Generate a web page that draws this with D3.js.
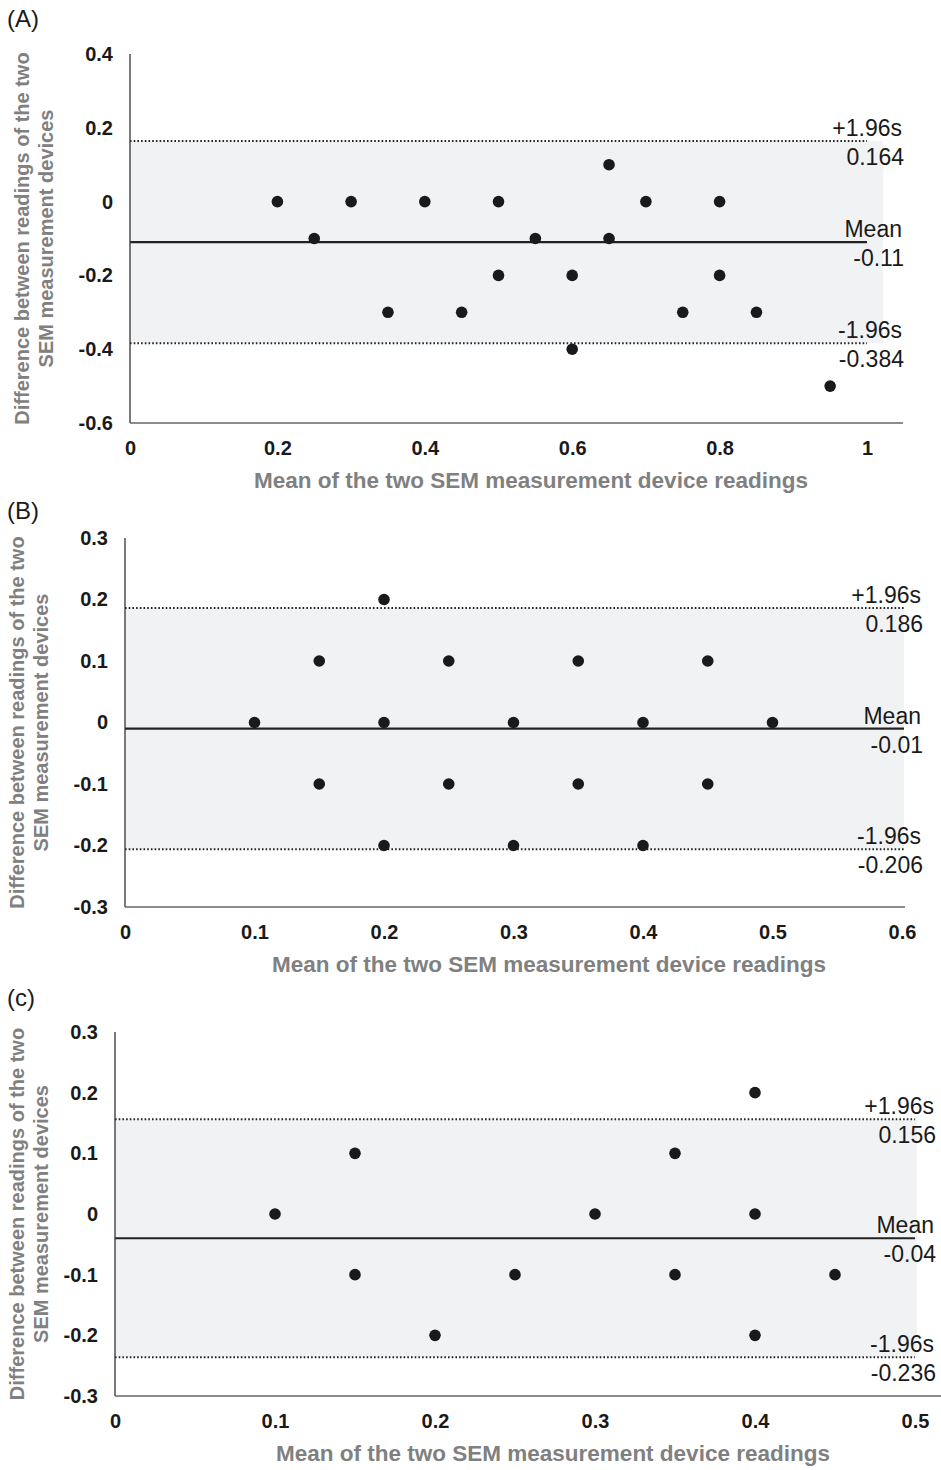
<!DOCTYPE html>
<html>
<head>
<meta charset="utf-8">
<script src="https://cdn.jsdelivr.net/npm/d3@7"></script>
<style>
  body { margin: 0; background: #fff; }
  text { font-family: "Liberation Sans", Arial, Helvetica, sans-serif; }
  .tick text { font-weight: bold; font-size: 20px; fill: #1a1a1a; }
</style>
</head>
<body>
<script>
var width = 941,
    height = 1470;

// panel A
var aX = [0.2, 0.25, 0.3, 0.35, 0.4, 0.45, 0.5, 0.5, 0.55, 0.6, 0.6, 0.65, 0.65, 0.7, 0.75, 0.8, 0.8, 0.85, 0.95];
var aY = [0, -0.1, 0, -0.3, 0, -0.3, 0, -0.2, -0.1, -0.2, -0.4, 0.1, -0.1, 0, -0.3, 0, -0.2, -0.3, -0.5];
var aStats = [0.164, -0.11, -0.384];
var aXTicks = [0, 0.2, 0.4, 0.6, 0.8, 1];
var aYTicks = [0.4, 0.2, 0, -0.2, -0.4, -0.6];

// panel B
var bX = [0.1, 0.15, 0.15, 0.2, 0.2, 0.2, 0.25, 0.25, 0.3, 0.3, 0.35, 0.35, 0.4, 0.4, 0.45, 0.45, 0.5];
var bY = [0, 0.1, -0.1, 0.2, 0, -0.2, 0.1, -0.1, 0, -0.2, 0.1, -0.1, 0, -0.2, 0.1, -0.1, 0];
var bStats = [0.186, -0.01, -0.206];
var bXTicks = [0, 0.1, 0.2, 0.3, 0.4, 0.5, 0.6];
var bYTicks = [0.3, 0.2, 0.1, 0, -0.1, -0.2, -0.3];

// panel C
var cX = [0.1, 0.15, 0.15, 0.2, 0.25, 0.3, 0.35, 0.35, 0.4, 0.4, 0.4, 0.45];
var cY = [0, 0.1, -0.1, -0.2, -0.1, 0, 0.1, -0.1, 0.2, 0, -0.2, -0.1];
var cStats = [0.156, -0.04, -0.236];
var cXTicks = [0, 0.1, 0.2, 0.3, 0.4, 0.5];
var cYTicks = [0.3, 0.2, 0.1, 0, -0.1, -0.2, -0.3];

var statNames = ["+1.96s", "Mean", "-1.96s"];
var xTitle = "Mean of the two SEM measurement device readings";
var yTitle = ["Difference between readings of the two", "SEM measurement devices"];

var svg = d3.select("body").append("svg")
    .attr("width", width)
    .attr("height", height);

function fmt(v) {
    return String(v);
}

function drawPanel(p) {
    var x = d3.scaleLinear().domain(p.xDomain).range([p.left, p.right]);
    var y = d3.scaleLinear().domain(p.yDomain).range([p.bottom, p.top]);
    var g = svg.append("g");

    // shaded band between the limits of agreement
    g.append("rect")
        .attr("x", x(0))
        .attr("y", y(p.stats[0]))
        .attr("width", p.bandRight - x(0))
        .attr("height", y(p.stats[2]) - y(p.stats[0]))
        .attr("fill", "#f1f2f4");

    // limit lines + mean line
    p.stats.forEach(function(s, i) {
        g.append("line")
            .attr("x1", x(0)).attr("x2", p.lineRight)
            .attr("y1", y(s)).attr("y2", y(s))
            .attr("stroke", "#222")
            .attr("stroke-width", i == 1 ? 2.2 : 2)
            .attr("stroke-dasharray", i == 1 ? null : "1.6,2.1");

        g.append("text")
            .attr("x", p.labelRight)
            .attr("y", y(s) - 5)
            .attr("text-anchor", "end")
            .attr("font-size", 23)
            .attr("fill", "#1a1a1a")
            .text(statNames[i]);
        g.append("text")
            .attr("x", p.labelRight + 2)
            .attr("y", y(s) + 24)
            .attr("text-anchor", "end")
            .attr("font-size", 23)
            .attr("fill", "#1a1a1a")
            .text(s);
    });

    // axes
    var yAxis = d3.axisLeft(y).tickValues(p.yTicks).tickSize(0).tickPadding(17).tickFormat(fmt);
    var xAxis = d3.axisBottom(x).tickValues(p.xTicks).tickSize(0).tickPadding(18).tickFormat(fmt);

    var ya = g.append("g").attr("transform", "translate(" + x(0) + ",0)").call(yAxis);
    ya.select(".domain").remove();
    var xa = g.append("g").attr("transform", "translate(0," + y(p.yDomain[0]) + ")").call(xAxis);
    xa.select(".domain").remove();

    g.append("line")
        .attr("x1", x(0)).attr("x2", x(0))
        .attr("y1", y(p.yDomain[1])).attr("y2", y(p.yDomain[0]))
        .attr("stroke", "#333").attr("stroke-width", 1.3);
    g.append("line")
        .attr("x1", x(0)).attr("x2", p.axisRight)
        .attr("y1", y(p.yDomain[0])).attr("y2", y(p.yDomain[0]))
        .attr("stroke", "#666").attr("stroke-width", 1.5);

    // points
    g.selectAll("circle.pt")
        .data(d3.zip(p.xs, p.ys))
        .enter()
        .append("circle")
        .attr("class", "pt")
        .attr("cx", function(d){ return x(d[0]); })
        .attr("cy", function(d){ return y(d[1]); })
        .attr("r", 5.8)
        .attr("fill", "#1a1a1a");

    // titles
    g.append("text")
        .attr("x", p.xTitleX)
        .attr("y", y(p.yDomain[0]) + 65)
        .attr("text-anchor", "middle")
        .attr("font-size", 22.5)
        .attr("font-weight", "bold")
        .attr("fill", "#808080")
        .text(xTitle);

    var midY = (y(p.yDomain[0]) + y(p.yDomain[1])) / 2;
    yTitle.forEach(function(t, i) {
        g.append("text")
            .attr("transform", "translate(" + (p.yTitleX + i * 24) + "," + midY + ") rotate(-90)")
            .attr("text-anchor", "middle")
            .attr("dy", "0.35em")
            .attr("font-size", 20)
            .attr("font-weight", "bold")
            .attr("fill", "#808080")
            .text(t);
    });

    g.append("text")
        .attr("x", 7)
        .attr("y", p.labelY)
        .attr("font-size", 24)
        .attr("fill", "#1a1a1a")
        .text(p.name);
}

drawPanel({
    name: "(A)", labelY: 27,
    xs: aX, ys: aY, stats: aStats, xTicks: aXTicks, yTicks: aYTicks,
    xDomain: [0, 1], yDomain: [-0.6, 0.4],
    left: 130, right: 867, top: 54, bottom: 423,
    bandRight: 883, lineRight: 867, axisRight: 903, labelRight: 902,
    xTitleX: 531, yTitleX: 22
});

drawPanel({
    name: "(B)", labelY: 519,
    xs: bX, ys: bY, stats: bStats, xTicks: bXTicks, yTicks: bYTicks,
    xDomain: [0, 0.6], yDomain: [-0.3, 0.3],
    left: 125, right: 902, top: 538, bottom: 907,
    bandRight: 904, lineRight: 904, axisRight: 905, labelRight: 921,
    xTitleX: 549, yTitleX: 17
});

drawPanel({
    name: "(c)", labelY: 1006,
    xs: cX, ys: cY, stats: cStats, xTicks: cXTicks, yTicks: cYTicks,
    xDomain: [0, 0.5], yDomain: [-0.3, 0.3],
    left: 115, right: 915, top: 1032, bottom: 1396,
    bandRight: 917, lineRight: 915, axisRight: 941, labelRight: 934,
    xTitleX: 553, yTitleX: 17
});
</script>
</body>
</html>
